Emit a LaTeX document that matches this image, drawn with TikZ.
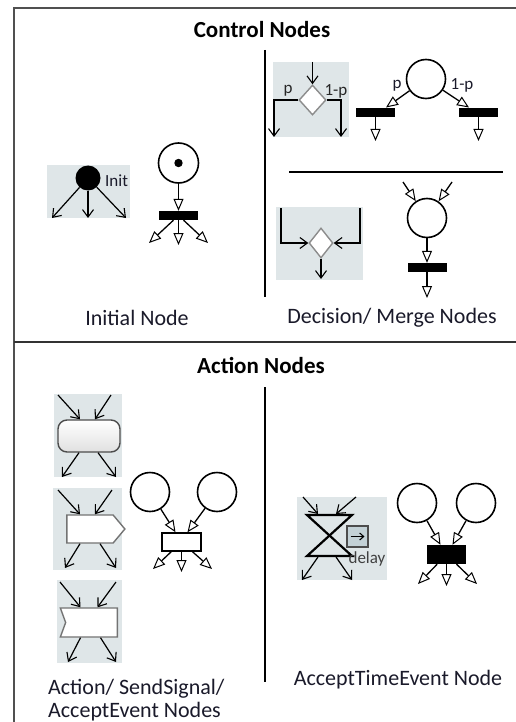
\documentclass[tikz,border=0pt]{standalone}
\usepackage{fontspec}
\setmainfont{Carlito}
\usetikzlibrary{arrows.meta,shapes.geometric,shapes.symbols}
\definecolor{boxgray}{HTML}{DFE6E8}
\definecolor{txt}{HTML}{1A1A2A}
\definecolor{framec}{HTML}{505050}
\definecolor{smallbox}{HTML}{C3D1D6}
\tikzset{
  place/.style={circle, draw, line width=1.6pt, minimum size=39, inner sep=0},
  tokenplace/.style={circle, draw, line width=1.6pt, minimum size=40, inner sep=0},
  blackbar/.style={rectangle, fill=black, minimum width=39, minimum height=9, inner sep=0},
  petriarrow/.style={-{Triangle[open,length=12pt,width=10pt,line width=1pt]}, line width=1.3pt},
  umlarrow/.style={-{Straight Barb[length=7.5pt,width=11pt,line width=1.1pt]}, line width=1.2pt},
  graybox/.style={rectangle, fill=boxgray, draw=none, inner sep=0},
  umldiamond/.style={diamond, draw=black!45, fill=white, line width=1.4pt, inner sep=0},
  label/.style={text=txt, font=\fontsize{22}{23}\selectfont},
  title/.style={text=black, font=\bfseries\fontsize{23}{26}\selectfont},
  small/.style={text=txt, font=\fontsize{17}{20}\selectfont, inner sep=0},
  umlshape/.style={draw=black!70, line width=1.4pt, inner sep=0},
}
\begin{document}
\begin{tikzpicture}[x=1pt,y=-1pt]
\useasboundingbox (0,0) rectangle (516,722);
\fill[white] (0,0) rectangle (516,722);
% frame and dividers
\draw[framec, line width=1.5pt] (14,740) -- (14,8) -- (530,8);
\draw[black!80, line width=1.5pt] (14,342) -- (530,342);
\draw[black, line width=1.3pt] (265,50) -- (265,297);
\draw[black, line width=1.3pt] (289,172) -- (503,172);
\draw[black, line width=1.3pt] (265,387) -- (265,682);

% titles
\node[title] (tctrl) at (262,30) {Control Nodes};
\node[title] (tact) at (261,365) {Action Nodes};

% ---------------- Initial node (UML)
\node[graybox, minimum width=83, minimum height=53] (ibox) at (88.5,191.5) {};
\node[circle, fill=black, minimum size=25, inner sep=0] (ic) at (88,178) {};
\node[small, anchor=west] (itext) at (105,181) {Init};
\coordinate (i1) at (52,218);
\coordinate (i2) at (88,218);
\coordinate (i3) at (126,218);
\draw[umlarrow] (ic) -- (i1);
\draw[umlarrow] (ic) -- (i2);
\draw[umlarrow] (ic) -- (i3);

% ---------------- Initial node (Petri)
\node[tokenplace] (pi) at (178.5,163) {};
\fill (pi.center) circle (4.2);
\node[blackbar] (bi) at (178.5,215.5) {};
\coordinate (bi1) at (149,243);
\coordinate (bi2) at (178.5,245);
\coordinate (bi3) at (208,243);
\draw[petriarrow] (pi) -- (bi);
\draw[petriarrow] (bi) -- (bi1);
\draw[petriarrow] (bi) -- (bi2);
\draw[petriarrow] (bi) -- (bi3);
\node[label] (linit) at (137,318) {Initial Node};

% ---------------- Decision (UML)
\node[graybox, minimum width=76, minimum height=75] (dbox) at (311,99.5) {};
\node[umldiamond, minimum width=27, minimum height=30] (dd) at (312.5,100) {};
\coordinate (d0) at (312.5,62);
\coordinate (dl) at (274,137);
\coordinate (dr) at (341,137);
\draw[umlarrow] (d0) -- (dd.north);
\draw[umlarrow] (dd.west) -| (dl);
\draw[umlarrow] (dd.east) -| (dr);
\node[small, text=black!85] (dpl) at (288,91) {p};
\node[small, text=black!85] (dpr) at (336,91) {1-p};

% ---------------- Decision (Petri)
\node[place] (pd) at (426,79) {};
\node[blackbar] (bl) at (375.5,112.5) {};
\node[blackbar] (br) at (478.5,112.5) {};
\coordinate (blt) at (386,107.5);
\coordinate (brt) at (469,107.5);
\coordinate (blb) at (375.5,141);
\coordinate (brb) at (478.5,141);
\draw[petriarrow] (pd) -- (blt);
\draw[petriarrow] (pd) -- (brt);
\draw[petriarrow] (bl) -- (blb);
\draw[petriarrow] (br) -- (brb);
\node[small] (ppl) at (397,86) {p};
\node[small] (ppr) at (462,85) {1-p};

% ---------------- Merge (UML)
\node[graybox, minimum width=87, minimum height=73] (mbox) at (319.5,243.5) {};
\node[umldiamond, minimum width=24, minimum height=30] (md) at (321,243) {};
\coordinate (ml) at (281,208);
\coordinate (mr) at (360,208);
\coordinate (mbt) at (321,279);
\draw[umlarrow] (ml) |- (md.west);
\draw[umlarrow] (mr) |- (md.east);
\draw[umlarrow] (md.south) -- (mbt);

% ---------------- Merge (Petri)
\node[place] (pm) at (427,218) {};
\coordinate (m1) at (403,182);
\coordinate (m2) at (452,182);
\node[blackbar] (bm) at (427,267.5) {};
\coordinate (mb2) at (427,298);
\draw[petriarrow] (m1) -- (pm);
\draw[petriarrow] (m2) -- (pm);
\draw[petriarrow] (pm) -- (bm);
\draw[petriarrow] (bm) -- (mb2);
\node[label] (ldec) at (392,318) {Decision/ Merge Nodes};

% ---------------- Action (UML)
\node[graybox, minimum width=68, minimum height=83] (a1box) at (88,435.5) {};
\node[umlshape, rectangle, rounded corners=9pt, top color=white, bottom color=black!12,
      minimum width=62, minimum height=32] (a1) at (89,436) {};
\coordinate (a1i1) at (58,395);
\coordinate (a1i2) at (111,395);
\coordinate (a1o1) at (62,477);
\coordinate (a1o2) at (116,477);
\draw[umlarrow] (a1i1) -- ([xshift=-9pt]a1.north);
\draw[umlarrow] (a1i2) -- ([xshift=6pt]a1.north);
\draw[umlarrow] ([xshift=-10pt]a1.south) -- (a1o1);
\draw[umlarrow] ([xshift=9pt]a1.south) -- (a1o2);

% SendSignal
\node[graybox, minimum width=69, minimum height=82] (a2box) at (87.5,529) {};
\node[umlshape, draw=black!55, fill=white, signal, signal to=east, signal pointer angle=100,
      minimum width=58, minimum height=28] (a2) at (90,529) {};
\coordinate (a2i1) at (58,490);
\coordinate (a2i2) at (112,490);
\coordinate (a2o1) at (65,568);
\coordinate (a2o2) at (116,568);
\draw[umlarrow] (a2i1) -- ([xshift=-10pt]a2.north);
\draw[umlarrow] (a2i2) -- ([xshift=5pt]a2.north);
\draw[umlarrow] ([xshift=-10pt]a2.south) -- (a2o1);
\draw[umlarrow] ([xshift=10pt]a2.south) -- (a2o2);

% AcceptEvent
\node[graybox, minimum width=65, minimum height=83] (a3box) at (89.5,621.5) {};
\node[umlshape, draw=black!55, fill=white, signal, signal from=west, signal to=nowhere,
      signal pointer angle=140, minimum width=57, minimum height=29] (a3) at (91.5,622.5) {};
\coordinate (a3i1) at (60,582);
\coordinate (a3i2) at (116,582);
\coordinate (a3o1) at (68,662);
\coordinate (a3o2) at (116,662);
\draw[umlarrow] (a3i1) -- ([xshift=-11pt]a3.north);
\draw[umlarrow] (a3i2) -- ([xshift=6pt]a3.north);
\draw[umlarrow] ([xshift=-11pt]a3.south) -- (a3o1);
\draw[umlarrow] ([xshift=9pt]a3.south) -- (a3o2);

% ---------------- Action (Petri)
\node[place] (c1) at (150,492) {};
\node[place] (c2) at (217,492) {};
\node[rectangle, draw, fill=white, line width=1.5pt, minimum width=39, minimum height=18, inner sep=0] (ta) at (181.5,542) {};
\coordinate (to1) at (153,569);
\coordinate (to2) at (181.5,572);
\coordinate (to3) at (212,569);
\draw[petriarrow] (c1) -- ([xshift=-6pt]ta.north);
\draw[petriarrow] (c2) -- ([xshift=6pt]ta.north);
\draw[petriarrow] (ta) -- (to1);
\draw[petriarrow] (ta) -- (to2);
\draw[petriarrow] (ta) -- (to3);
\node[label, anchor=base west, align=left, inner sep=0] (lact) at (48,717)
  {Action/ SendSignal/\\AcceptEvent Nodes};

% ---------------- AcceptTimeEvent (UML)
\node[graybox, minimum width=90, minimum height=83] (tbox) at (342,538.5) {};
\coordinate (hg) at (329.5,535.5);
\draw[black, line width=2.2pt, line join=miter] (307,515) -- (352,515) -- (307,556) -- (352,556) -- cycle;
\coordinate (ti1) at (303,497);
\coordinate (ti2) at (356,497);
\coordinate (tt1) at (318,514);
\coordinate (tt2) at (336,514);
\coordinate (tb1) at (318,557);
\coordinate (tb2) at (336,557);
\coordinate (to1b) at (302,580);
\coordinate (to2b) at (352,580);
\draw[umlarrow] (ti1) -- (tt1);
\draw[umlarrow] (ti2) -- (tt2);
\draw[umlarrow] (tb1) -- (to1b);
\draw[umlarrow] (tb2) -- (to2b);
\node[rectangle, draw=black!70, fill=smallbox, line width=1.2pt, minimum size=21, inner sep=0] (tsb) at (357.5,536.5) {};
\draw[-{Straight Barb[length=4pt,width=7pt]}, line width=1.1pt] ([xshift=-7pt]tsb.center) -- ([xshift=7pt]tsb.center);
\node[small, text=black!75] (tdelay) at (367,559) {delay};

% ---------------- AcceptTimeEvent (Petri)
\node[place] (t1) at (417,503) {};
\node[place] (t2) at (476,503) {};
\node[rectangle, fill=black, minimum width=39, minimum height=19, inner sep=0] (tr) at (446.5,554.5) {};
\coordinate (tro1) at (418,584);
\coordinate (tro2) at (446.5,586);
\coordinate (tro3) at (477,584);
\draw[petriarrow] (t1) -- ([xshift=-6pt]tr.north);
\draw[petriarrow] (t2) -- ([xshift=6pt]tr.north);
\draw[petriarrow] (tr) -- (tro1);
\draw[petriarrow] (tr) -- (tro2);
\draw[petriarrow] (tr) -- (tro3);
\node[label] (ltime) at (398,680) {AcceptTimeEvent Node};
\end{tikzpicture}
\end{document}
